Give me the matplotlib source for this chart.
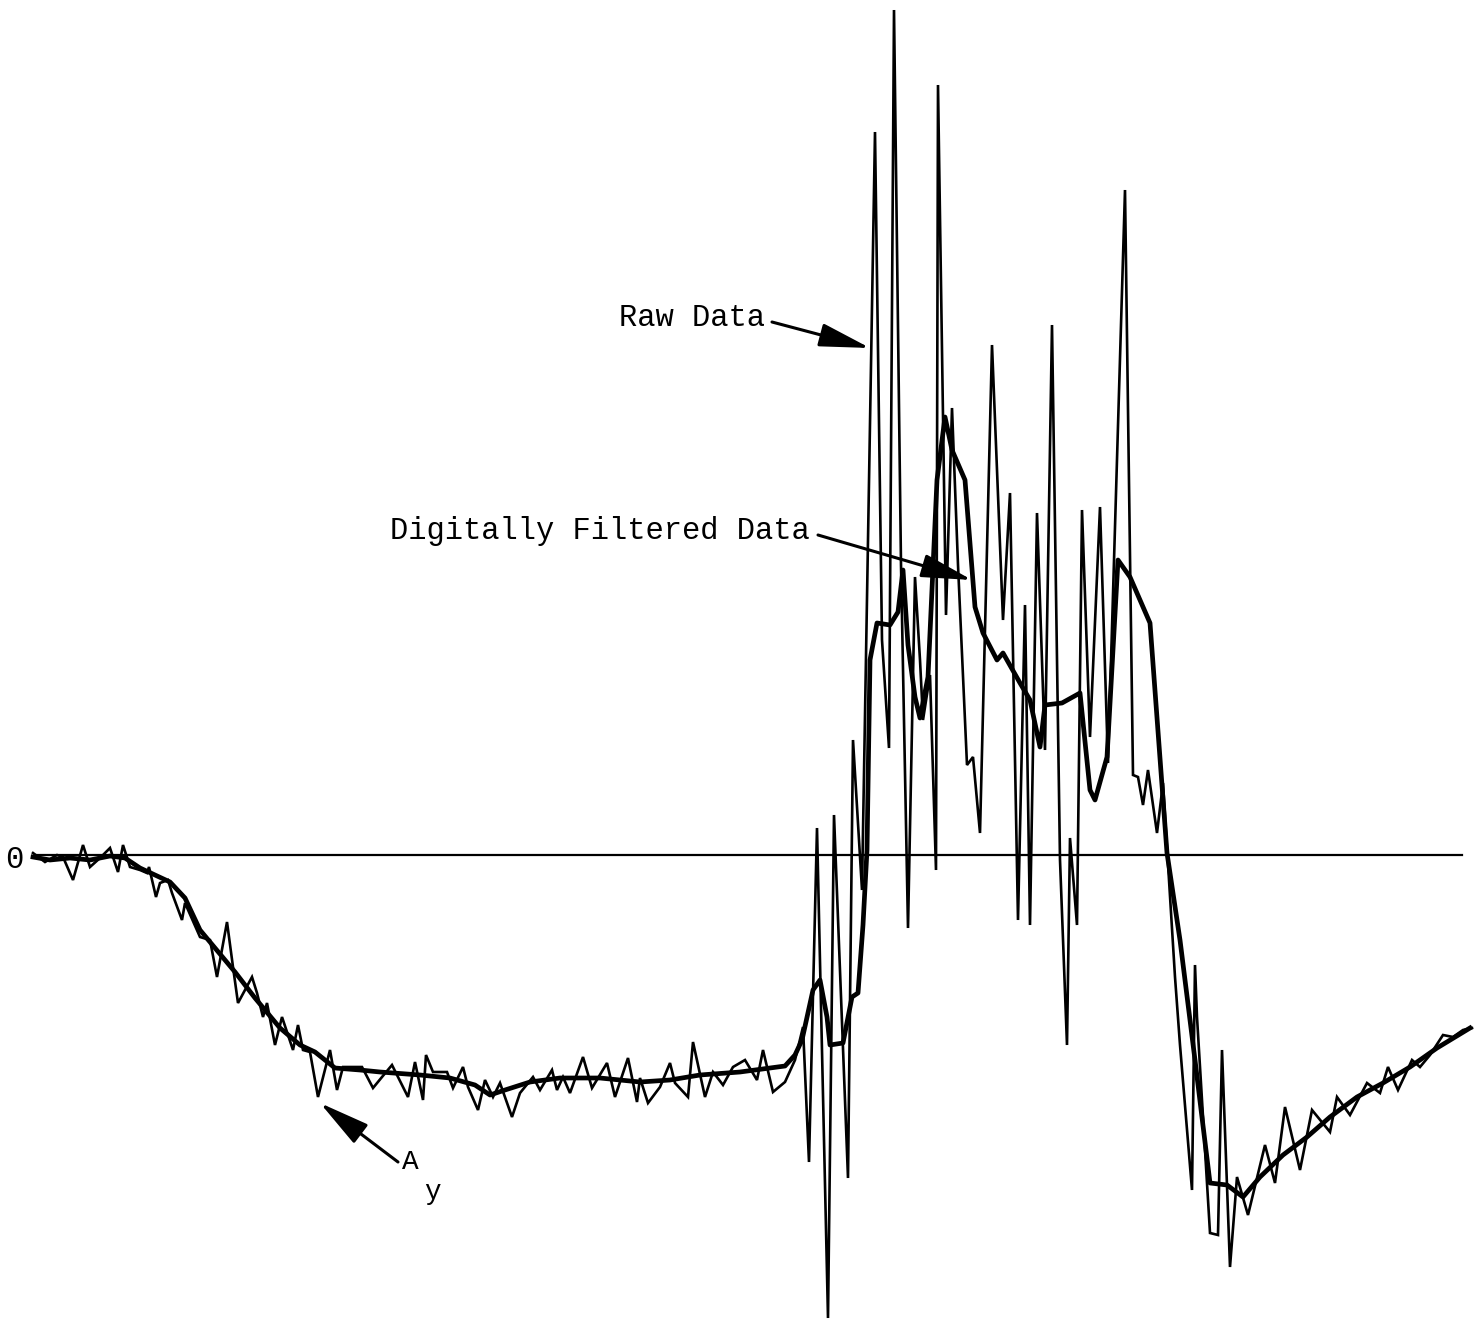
import matplotlib
matplotlib.use("Agg")
import matplotlib.pyplot as plt

# time (arbitrary units) and lateral acceleration A_y (arbitrary units, 0 = reference line)
raw_t = [0, 12, 24, 30, 40, 50, 57, 67, 77, 85, 90, 97, 107, 114, 116, 123, 127, 135, 139, 149,
         152, 167, 177, 184, 194, 200, 205, 219, 224, 230, 234, 242, 249, 260, 265, 270, 277, 285, 297, 304,
         310, 329, 340, 349, 359, 375, 382, 390, 393, 400, 414, 420, 430, 435, 445, 452, 460, 467, 479, 487,
         500, 507, 519, 524, 530, 537, 550, 559, 574, 582, 595, 604, 607, 615, 627, 637, 642, 655, 660, 672,
         680, 690, 700, 712, 724, 730, 740, 752, 762, 770, 776, 784, 795, 801, 815, 820, 829, 842, 849, 856,
         861, 868, 875, 882, 887, 890, 897, 903, 905, 913, 919, 925, 934, 940, 947, 959, 970, 977, 985, 992,
         997, 1004, 1012, 1019, 1027, 1034, 1037, 1044, 1049, 1057, 1067, 1075, 1092, 1100, 1105, 1110, 1115, 1124, 1130, 1142,
         1147, 1159, 1162, 1164, 1177, 1185, 1189, 1197, 1204, 1215, 1232, 1242, 1252, 1267, 1279, 1297, 1304, 1317, 1334, 1347,
         1355, 1365, 1379, 1387, 1397, 1410, 1420, 1430, 1439]
raw_y = [2, -7, 0, -2, -25, 10, -12, -3, 7, -17, 10, -12, -15, -18, -12, -42, -28, -25, -38, -65,
         -48, -82, -85, -122, -67, -112, -148, -122, -138, -162, -148, -190, -162, -195, -170, -195, -197, -242, -195, -235,
         -212, -212, -233, -222, -210, -242, -207, -245, -200, -217, -217, -233, -212, -232, -255, -225, -242, -228, -262, -238,
         -222, -235, -215, -235, -222, -238, -202, -233, -208, -242, -203, -247, -223, -248, -232, -208, -228, -242, -187, -242,
         -217, -230, -212, -205, -225, -195, -237, -227, -205, -172, -307, 27, -463, 40, -323, 115, -35, 723, 215, 107,
         845, 290, -73, 278, 195, 135, 180, -15, 770, 240, 447, 290, 90, 98, 22, 510, 235, 362, -65, 250,
         -70, 342, 105, 530, -5, -190, 17, -70, 345, 118, 348, 92, 665, 80, 78, 50, 85, 22, 72, -122,
         -190, -335, -110, -162, -378, -380, -195, -412, -322, -360, -290, -328, -252, -315, -255, -277, -242, -260, -228, -238,
         -212, -235, -205, -212, -200, -180, -182, -175, -173]

filt_t = [0, 17, 37, 57, 77, 92, 107, 122, 137, 152, 167, 182, 202, 222, 247, 267, 282, 302, 327, 347,
          387, 417, 442, 457, 472, 497, 527, 567, 607, 637, 667, 707, 737, 752, 762, 769, 780, 787, 794, 797,
          810, 819, 825, 830, 834, 837, 844, 857, 865, 870, 875, 882, 887, 895, 904, 912, 919, 932, 942, 950,
          964, 970, 987, 997, 1007, 1012, 1029, 1047, 1057, 1062, 1074, 1085, 1097, 1117, 1134, 1147, 1162, 1177, 1194, 1210,
          1227, 1250, 1274, 1297, 1324, 1350, 1377, 1404, 1437]
filt_y = [-2, -5, -3, -5, -1, -3, -13, -20, -27, -43, -75, -93, -117, -143, -173, -190, -197, -213, -215, -217,
          -220, -223, -230, -240, -235, -227, -223, -223, -227, -225, -220, -217, -213, -211, -200, -185, -135, -125, -162, -190,
          -188, -142, -138, -70, 5, 195, 232, 230, 243, 285, 210, 158, 137, 178, 375, 438, 405, 375, 248, 222,
          195, 202, 172, 155, 108, 150, 152, 162, 65, 55, 98, 295, 278, 232, 2, -85, -205, -328, -330, -342,
          -322, -300, -282, -262, -242, -228, -212, -193, -173]

zero_span = [2, 1429]

FONT = ["Liberation Mono", "DejaVu Sans Mono"]

fig = plt.figure(figsize=(14.78, 13.27), dpi=100)
ax = fig.add_axes([0, 0, 1, 1])
ax.set_xlim(-33, 1445)
ax.set_ylim(-472, 855)
ax.axis("off")

ax.plot(zero_span, [0, 0], color="black", lw=1.6)
ax.plot(raw_t, raw_y, color="black", lw=1.9, solid_joinstyle="miter")
ax.plot(filt_t, filt_y, color="black", lw=3.4, solid_joinstyle="round")

tk = dict(family=FONT, fontsize=22, color="black")
ax.text(-19, -5, "0", ha="center", va="center", **tk)
ax.text(659, 537, "Raw Data", ha="center", va="center", **tk)
ax.text(567, 324, "Digitally Filtered Data", ha="center", va="center", **tk)
ax.text(377, -307, "A", ha="center", va="center", family=FONT, fontsize=20)
ax.text(399, -337, "y", ha="center", va="center", family=FONT, fontsize=20)

aprops = dict(arrowstyle="-|>,head_length=1.3,head_width=0.3", mutation_scale=24,
              lw=2.2, color="black", shrinkA=0, shrinkB=0)
ax.annotate("", xy=(837, 507), xytext=(739, 533), arrowprops=aprops)
ax.annotate("", xy=(939, 275), xytext=(785, 320), arrowprops=aprops)
ax.annotate("", xy=(287, -248), xytext=(365, -307), arrowprops=aprops)

fig.savefig("out.png", dpi=100, facecolor="white")
